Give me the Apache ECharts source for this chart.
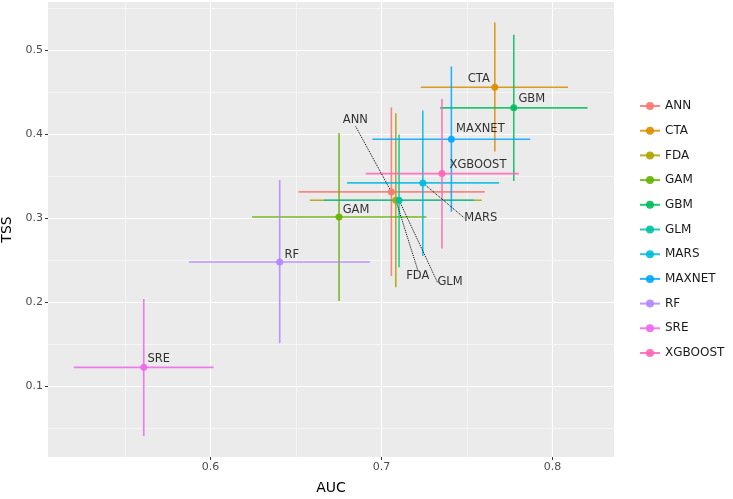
<!DOCTYPE html>
<html>
<head>
<meta charset="utf-8">
<script src="https://cdn.jsdelivr.net/npm/echarts@6/dist/echarts.min.js"></script>
<style>
  html, body { margin: 0; padding: 0; background: #fff; }
  #chart { width: 733px; height: 499px; }
</style>
</head>
<body>
<div id="chart"></div>
<script>
// model names and their AUC / TSS means with error ranges
const models = ['ANN', 'CTA', 'FDA', 'GAM', 'GBM', 'GLM', 'MARS', 'MAXNET', 'RF', 'SRE', 'XGBOOST'];
const auc    = [0.7058, 0.7663, 0.7084, 0.6752, 0.7774, 0.7103, 0.7242, 0.7409, 0.6405, 0.5610, 0.7354];
const aucLo  = [0.6515, 0.7230, 0.6581, 0.6243, 0.7343, 0.6663, 0.6799, 0.6947, 0.5875, 0.5201, 0.6908];
const aucHi  = [0.7604, 0.8091, 0.7587, 0.7263, 0.8205, 0.7540, 0.7688, 0.7871, 0.6932, 0.6019, 0.7803];
const tss    = [0.3310, 0.4556, 0.3211, 0.3012, 0.4310, 0.3211, 0.3417, 0.3937, 0.2476, 0.1222, 0.3528];
const tssLo  = [0.2310, 0.3790, 0.2175, 0.2012, 0.3440, 0.2413, 0.2548, 0.3075, 0.1508, 0.0405, 0.2635];
const tssHi  = [0.4313, 0.5325, 0.4247, 0.4008, 0.5179, 0.3992, 0.4278, 0.4802, 0.3452, 0.2036, 0.4417];

const xMajor = [0.6, 0.7, 0.8];
const xMinor = [0.55, 0.65, 0.75];
const yMajor = [0.1, 0.2, 0.3, 0.4, 0.5];
const yMinor = [0.05, 0.15, 0.25, 0.35, 0.45, 0.55];

const colors = ['#F8766D', '#DB8E00', '#AEA200', '#64B200', '#00BD5C', '#00C1A7',
                '#00BADE', '#00A6FF', '#B385FF', '#EF67EB', '#FF63B6'];

// label offsets in px from the point (repelled labels get a dotted segment)
const labelShift = {
  ANN: [-36, -72, true], CTA: [-16, -8], FDA: [22, 76, true], GAM: [17, -7],
  GBM: [18, -9], GLM: [51, 82, true], MARS: [58, 35, true], MAXNET: [29, -10],
  RF: [12, -7], SRE: [15, -8], XGBOOST: [36, -9]
};

const font = 'DejaVu Sans';
const series = models.map(function (m, i) {
  const sh = labelShift[m];
  return {
    type: 'line',
    name: m,
    color: colors[i],
    symbol: 'circle',
    symbolSize: 0,
    showSymbol: true,
    silent: true,
    animation: false,
    connectNulls: false,
    lineStyle: { width: 1.6, opacity: 0.85 },
    itemStyle: { opacity: 0.9 },
    labelLayout: function () { return { dx: sh[0], dy: sh[1] }; },
    labelLine: { show: !!sh[2], lineStyle: { color: '#000', type: 'dotted', width: 1 } },
    data: [
      [aucLo[i], tss[i]],
      {
        value: [auc[i], tss[i]],
        symbolSize: 7,
        label: {
          show: true, position: 'inside', formatter: m,
          color: '#1a1a1a', fontFamily: font, fontSize: 11.5
        }
      },
      [aucHi[i], tss[i]],
      '-',
      [auc[i], tssLo[i]],
      [auc[i], tssHi[i]]
    ]
  };
});

const chart = echarts.init(document.getElementById('chart'));
chart.setOption({
  backgroundColor: '#fff',
  animation: false,
  grid: {
    left: 48, right: 119, top: 2, bottom: 42,
    outerBoundsMode: 'none', containLabel: false,
    show: true, backgroundColor: '#EBEBEB', borderWidth: 0
  },
  legend: {
    data: models,
    orient: 'vertical',
    left: 639, top: 99,
    padding: 0,
    itemWidth: 20, itemHeight: 10, itemGap: 10.7,
    textStyle: { fontFamily: font, fontSize: 12, color: '#1a1a1a', lineHeight: 14 }
  },
  xAxis: [{
    type: 'value', min: 0.505, max: 0.836,
    name: 'AUC', nameLocation: 'middle', nameGap: 24,
    nameTextStyle: { fontFamily: font, fontSize: 14, color: '#000' },
    axisLine: { show: false },
    axisTick: { show: true, length: 3, customValues: xMajor, lineStyle: { color: '#333' } },
    axisLabel: { customValues: xMajor, margin: 5, fontFamily: font, fontSize: 11, color: '#4D4D4D',
                 formatter: function (v) { return v.toFixed(1); } },
    splitLine: { show: true, lineStyle: { color: '#fff', width: 1.1 } }
  }, {
    type: 'value', min: 0.505, max: 0.836, position: 'bottom',
    axisLine: { show: false }, axisLabel: { show: false },
    axisTick: { show: false, customValues: xMinor },
    splitLine: { show: true, lineStyle: { color: '#fff', width: 0.5 } }
  }],
  yAxis: [{
    type: 'value', min: 0.0155, max: 0.557,
    name: 'TSS', nameLocation: 'middle', nameGap: 30, nameRotate: 90,
    nameTextStyle: { fontFamily: font, fontSize: 14, color: '#000' },
    axisLine: { show: false },
    axisTick: { show: true, length: 3, customValues: yMajor, lineStyle: { color: '#333' } },
    axisLabel: { customValues: yMajor, margin: 5, fontFamily: font, fontSize: 11, color: '#4D4D4D',
                 formatter: function (v) { return v.toFixed(1); } },
    splitLine: { show: true, lineStyle: { color: '#fff', width: 1.1 } }
  }, {
    type: 'value', min: 0.0155, max: 0.557, position: 'left',
    axisLine: { show: false }, axisLabel: { show: false },
    axisTick: { show: false, customValues: yMinor },
    splitLine: { show: true, lineStyle: { color: '#fff', width: 0.5 } }
  }],
  series: series
});
</script>
</body>
</html>
